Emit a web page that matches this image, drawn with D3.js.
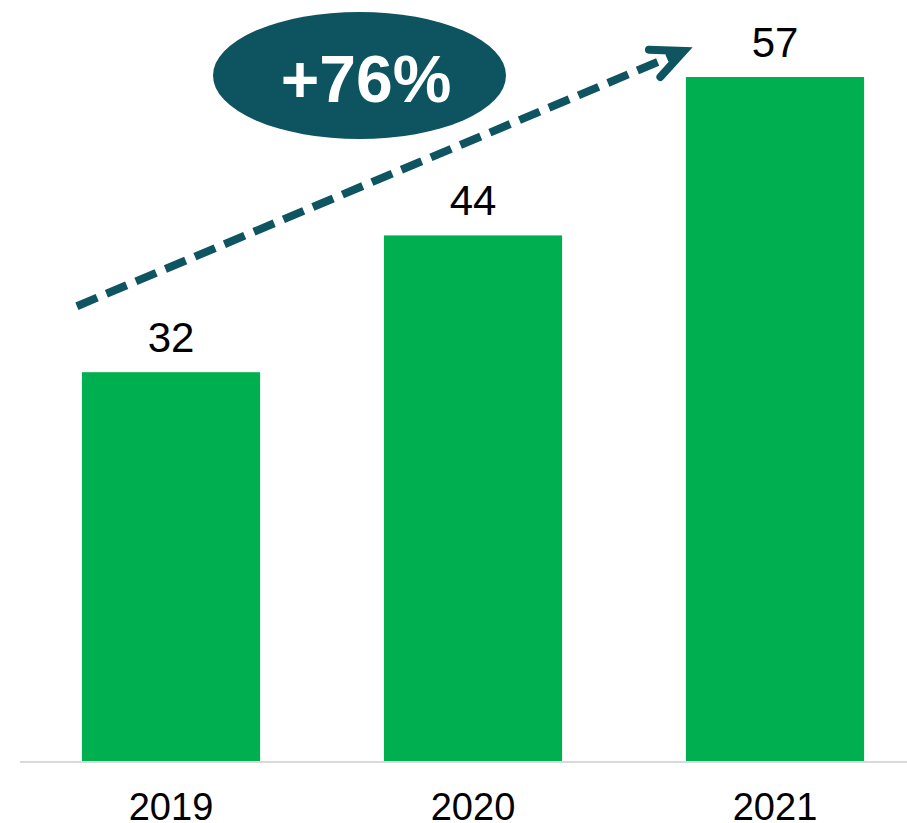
<!DOCTYPE html>
<html>
<head>
<meta charset="utf-8">
<script src="https://cdn.jsdelivr.net/npm/d3@7"></script>
<style>
  html, body { margin: 0; padding: 0; background: #ffffff; }
  svg { display: block; }
</style>
</head>
<body>
<svg id="chart" width="907" height="823"></svg>
<script>
// ---- data ----
const categories = ["2019", "2020", "2021"];
const values = [32.4, 43.8, 57.0];
const valueLabels = ["32", "44", "57"];
const growthLabel = "+76%";

// ---- layout ----
const W = 907, H = 823;
const baseY = 761;
const svg = d3.select("#chart");

const x = d3.scaleBand()
  .domain(categories)
  .range([20, 926])
  .paddingInner(0.41)
  .paddingOuter(0.205);

const y = d3.scaleLinear()
  .domain([0, 57])
  .range([baseY, 77]);

const green = "#00b050";
const teal = "#0e5461";

// bars
svg.selectAll("rect.bar")
  .data(categories)
  .join("rect")
  .attr("class", "bar")
  .attr("x", d => x(d))
  .attr("width", x.bandwidth())
  .attr("y", (d, i) => y(values[i]))
  .attr("height", (d, i) => y(0) - y(values[i]))
  .attr("fill", green);

// x axis
const xAxis = d3.axisBottom(x).tickSize(0).tickPadding(0);
const gx = svg.append("g")
  .attr("transform", `translate(0,${baseY + 1})`)
  .call(xAxis);
gx.select(".domain").remove();
gx.append("line")
  .attr("x1", 20).attr("x2", W)
  .attr("y1", 0).attr("y2", 0)
  .attr("stroke", "#d9d9d9")
  .attr("stroke-width", 2);
gx.selectAll(".tick text")
  .attr("y", 58)
  .attr("dy", 0)
  .attr("fill", "#000")
  .style("font-family", "'Liberation Sans', Arial, sans-serif")
  .style("font-size", "38px");

// value labels
svg.selectAll("text.val")
  .data(categories)
  .join("text")
  .attr("class", "val")
  .attr("x", d => x(d) + x.bandwidth() / 2)
  .attr("y", (d, i) => y(values[i]) - 20)
  .attr("text-anchor", "middle")
  .attr("fill", "#000")
  .style("font-family", "'Liberation Sans', Arial, sans-serif")
  .style("font-size", "42px")
  .text((d, i) => valueLabels[i]);

// growth arrow (annotation)
const x0 = x(categories[0]) - 5, y0 = y(values[0]) - 66;
const x1 = x(categories[2]) - 2, y1 = y(values[2]) - 26;
const ang = Math.atan2(y1 - y0, x1 - x0);
const armLen = 35, armAng = 25 * Math.PI / 180;
const back = ang + Math.PI;

svg.append("line")
  .attr("x1", x0).attr("y1", y0)
  .attr("x2", x1 - 6 * Math.cos(ang)).attr("y2", y1 - 6 * Math.sin(ang))
  .attr("stroke", teal)
  .attr("stroke-width", 8)
  .attr("stroke-dasharray", "22,10");

const a1 = [x1 + armLen * Math.cos(back - armAng), y1 + armLen * Math.sin(back - armAng)];
const a2 = [x1 + armLen * Math.cos(back + armAng), y1 + armLen * Math.sin(back + armAng)];
svg.append("path")
  .attr("d", `M${a1[0]},${a1[1]} L${x1},${y1} L${a2[0]},${a2[1]}`)
  .attr("fill", "none")
  .attr("stroke", teal)
  .attr("stroke-width", 8)
  .attr("stroke-linecap", "round")
  .attr("stroke-linejoin", "miter");

// growth bubble
svg.append("ellipse")
  .attr("cx", 359.5).attr("cy", 75.5)
  .attr("rx", 146.5).attr("ry", 63.5)
  .attr("fill", "#0d5360");

svg.append("text")
  .attr("x", 366).attr("y", 102)
  .attr("text-anchor", "middle")
  .attr("fill", "#ffffff")
  .style("font-family", "'Liberation Sans', Arial, sans-serif")
  .style("font-weight", "bold")
  .style("font-size", "66px")
  .text(growthLabel);
</script>
</body>
</html>
